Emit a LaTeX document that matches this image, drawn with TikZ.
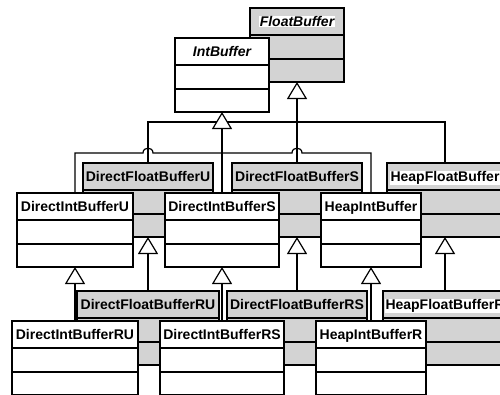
\documentclass[tikz,border=0pt]{standalone}
\usepackage{fontspec}
\setmainfont{Liberation Sans}
\usetikzlibrary{arrows.meta}
\definecolor{boxgray}{RGB}{211,211,211}
\tikzset{
  boxline/.style={draw=black, line width=1.8pt},
  genline/.style={draw=black, line width=1.2pt},
  genarrow/.style={genline, -{Triangle[fill=white, width=20pt, length=17pt, line join=miter]}},
  classname/.style={font=\fontsize{14}{16}\selectfont\bfseries, inner sep=0.6pt, anchor=base},
  abstractname/.style={classname, font=\fontsize{14}{16}\selectfont\bfseries\itshape},
  whitebg/.style={fill=white}
}
\newcommand\umlclass[7]{%
  \draw[boxline, fill=#5] (#2,#3) rectangle (#4,#3+74);
  \draw[boxline] (#2,#3+27) -- (#4,#3+27) (#2,#3+51) -- (#4,#3+51);
  \node[#7] (#1) at ({(#2+#4)/2},#3+18.5) {#6};
  \coordinate (#1-top) at ({(#2+#4)/2},#3);
  \coordinate (#1-bot) at ({(#2+#4)/2},#3+74);
}
\begin{document}
\begin{tikzpicture}[x=1pt, y=-1pt]
\useasboundingbox (0,0) rectangle (500,394);
\begin{scope}
\clip (0,0) rectangle (500,394);
% gray (float) classes
\umlclass{FB}{250}{8}{344}{boxgray}{FloatBuffer}{abstractname, whitebg}
\umlclass{DFBU}{83}{163}{213}{boxgray}{DirectFloatBufferU}{classname}
\umlclass{DFBS}{232}{163}{362}{boxgray}{DirectFloatBufferS}{classname}
\umlclass{HFB}{387}{163}{503}{boxgray}{HeapFloatBuffer}{classname, whitebg}
\umlclass{DFBRU}{77}{291}{219}{boxgray}{DirectFloatBufferRU}{classname}
\umlclass{DFBRS}{227}{291}{367}{boxgray}{DirectFloatBufferRS}{classname}
\umlclass{HFBR}{383}{291}{507}{boxgray}{HeapFloatBufferR}{classname, whitebg}
% white (int) classes
\umlclass{IB}{175}{38}{269}{white}{IntBuffer}{abstractname}
\umlclass{DIBU}{17}{193}{133}{white}{DirectIntBufferU}{classname}
\umlclass{DIBS}{165}{193}{279}{white}{DirectIntBufferS}{classname}
\umlclass{HIB}{321}{193}{421}{white}{HeapIntBuffer}{classname}
\umlclass{DIBRU}{12}{321}{138}{white}{DirectIntBufferRU}{classname}
\umlclass{DIBRS}{160}{321}{284}{white}{DirectIntBufferRS}{classname}
\umlclass{HIBR}{316}{321}{426}{white}{HeapIntBufferR}{classname}
% float bus
\coordinate (fbusL) at (148,122);
\coordinate (fbusR) at (445,122);
\draw[genline] (DFBU-top) -- (fbusL) -- (fbusR) -- (HFB-top);
% int bus with hops
\coordinate (ibusL) at (75,153);
\coordinate (hopAa) at (143,153);
\coordinate (hopAb) at (153,153);
\coordinate (hopBa) at (292,153);
\coordinate (hopBb) at (302,153);
\coordinate (ibusR) at (371,153);
\draw[genline] (DIBU-top) -- (ibusL) -- (hopAa)
  .. controls (143,146.5) and (153,146.5) .. (hopAb) -- (hopBa)
  .. controls (292,146.5) and (302,146.5) .. (hopBb) -- (ibusR) -- (HIB-top);
% generalization arrows
\draw[genarrow] (DFBS-top) -- (FB-bot);
\draw[genarrow] (DIBS-top) -- (IB-bot);
\draw[genarrow] (DIBRU-top) -- (DIBU-bot);
\draw[genarrow] (DIBRS-top) -- (DIBS-bot);
\draw[genarrow] (HIBR-top) -- (HIB-bot);
\draw[genarrow] (DFBRU-top) -- (DFBU-bot);
\draw[genarrow] (DFBRS-top) -- (DFBS-bot);
\draw[genarrow] (HFBR-top) -- (HFB-bot);
\end{scope}
\end{tikzpicture}
\end{document}
